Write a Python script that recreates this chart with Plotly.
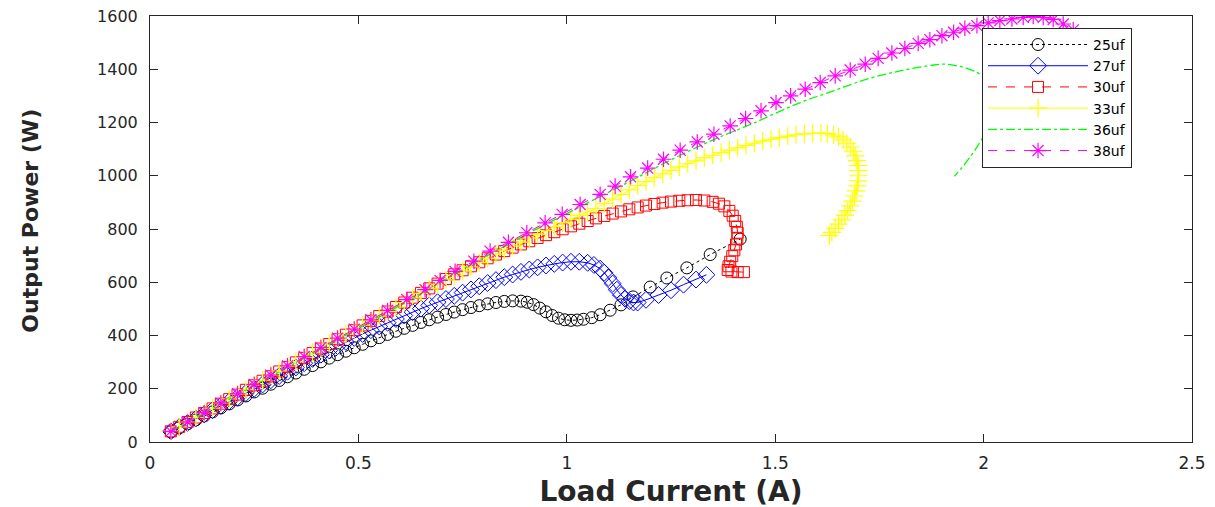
import plotly.graph_objects as go

# ---------------- data ----------------
i_25 = [0.05, 0.07, 0.09, 0.11, 0.13, 0.15, 0.17, 0.19, 0.21, 0.23, 0.25, 0.27, 0.29, 0.31, 0.33,
        0.35, 0.37, 0.39, 0.41, 0.43, 0.45, 0.47, 0.49, 0.51, 0.53, 0.55, 0.57, 0.59, 0.61, 0.63,
        0.65, 0.67, 0.69, 0.71, 0.73, 0.75, 0.77, 0.79, 0.81, 0.83, 0.85, 0.87, 0.89, 0.905, 0.92,
        0.935, 0.95, 0.965, 0.98, 0.995, 1.01, 1.025, 1.04, 1.06, 1.08, 1.104, 1.13, 1.159, 1.20,
        1.24, 1.288, 1.344, 1.416]
p_25 = [38, 53, 68, 83, 98, 113, 128, 143, 158, 173, 188, 202, 217, 231, 245,
        259, 273, 287, 301, 315, 328, 341, 354, 367, 380, 392, 404, 416, 427, 438,
        449, 459, 469, 479, 488, 497, 505, 512, 519, 524, 528, 530, 529, 525, 516,
        503, 489, 475, 465, 459, 457, 458, 461, 467, 478, 495, 515, 545, 582,
        616, 654, 704, 762]

i_27 = [0.05, 0.07, 0.09, 0.11, 0.13, 0.15, 0.17, 0.19, 0.21, 0.23, 0.25, 0.27, 0.29, 0.31, 0.33,
        0.35, 0.37, 0.39, 0.41, 0.43, 0.45, 0.47, 0.49, 0.51, 0.53, 0.55, 0.57, 0.59, 0.61, 0.63,
        0.65, 0.67, 0.69, 0.71, 0.73, 0.75, 0.77, 0.79, 0.81, 0.83, 0.85, 0.87, 0.89, 0.91, 0.93,
        0.95, 0.97, 0.99, 1.01, 1.03, 1.05, 1.065, 1.08, 1.09, 1.10, 1.11, 1.12, 1.13, 1.14, 1.15,
        1.16, 1.17, 1.19, 1.22, 1.25, 1.28, 1.31, 1.335]
p_27 = [40, 56, 72, 88, 104, 120, 136, 152, 168, 184, 200, 216, 232, 248, 264,
        280, 296, 312, 328, 344, 360, 376, 391, 406, 420, 434, 448, 462, 475, 488,
        501, 513, 525, 537, 549, 561, 573, 585, 597, 608, 619, 629, 639, 648, 656,
        663, 669, 674, 677, 677, 673, 665, 651, 636, 617, 595, 572, 552, 538, 529,
        524, 524, 534, 552, 570, 591, 610, 628]

i_30 = [0.05, 0.07, 0.09, 0.11, 0.13, 0.15, 0.17, 0.19, 0.21, 0.23, 0.25, 0.27, 0.29, 0.31, 0.33,
        0.35, 0.37, 0.39, 0.41, 0.43, 0.45, 0.47, 0.49, 0.51, 0.53, 0.55, 0.57, 0.59, 0.61, 0.63,
        0.65, 0.67, 0.69, 0.71, 0.73, 0.75, 0.77, 0.79, 0.81, 0.83, 0.85, 0.87, 0.89, 0.91, 0.93,
        0.95, 0.97, 0.99, 1.01, 1.03, 1.05, 1.07, 1.09, 1.11, 1.13, 1.15, 1.17, 1.19, 1.21, 1.23,
        1.25, 1.27, 1.29, 1.31, 1.33, 1.35, 1.365, 1.378, 1.39, 1.398, 1.404, 1.408, 1.41, 1.409,
        1.406, 1.402, 1.397, 1.392, 1.388, 1.386, 1.395, 1.41, 1.425]
p_30 = [40, 57, 75, 92, 109, 126, 144, 161, 178, 196, 213, 230, 247, 265, 282,
        299, 316, 334, 351, 368, 386, 403, 420, 438, 455, 473, 490, 507, 524, 542,
        560, 577, 595, 612, 630, 645, 660, 675, 690, 704, 717, 730, 742, 754, 766,
        777, 788, 799, 810, 820, 830, 840, 849, 858, 866, 874, 881, 888, 894, 899,
        903, 906, 908, 909, 907, 902, 895, 885, 868, 850, 830, 808, 786, 764,
        742, 720, 698, 677, 660, 646, 640, 638, 638]

i_33 = [0.05, 0.07, 0.09, 0.11, 0.13, 0.15, 0.17, 0.19, 0.21, 0.23, 0.25, 0.27, 0.29, 0.31, 0.33,
        0.35, 0.37, 0.39, 0.41, 0.43, 0.45, 0.47, 0.49, 0.51, 0.53, 0.55, 0.57, 0.59, 0.61, 0.63,
        0.65, 0.67, 0.69, 0.71, 0.73, 0.75, 0.77, 0.79, 0.81, 0.83, 0.85, 0.87, 0.89, 0.91, 0.93,
        0.95, 0.97, 0.99, 1.01, 1.03, 1.05, 1.07, 1.09, 1.11, 1.13, 1.15, 1.17, 1.19, 1.21, 1.23,
        1.25, 1.27, 1.29, 1.31, 1.33, 1.35, 1.37, 1.39, 1.41, 1.43, 1.45, 1.47, 1.49, 1.51, 1.53,
        1.55, 1.57, 1.59, 1.61, 1.625, 1.64, 1.652, 1.663, 1.672, 1.68, 1.687, 1.692, 1.696, 1.699,
        1.70, 1.70, 1.699, 1.697, 1.694, 1.69, 1.685, 1.68, 1.674, 1.667, 1.66, 1.652, 1.644,
        1.636, 1.63]
p_33 = [40, 57, 75, 92, 110, 127, 145, 162, 180, 197, 215, 232, 250, 267, 285,
        302, 319, 337, 354, 371, 388, 405, 422, 439, 456, 473, 490, 507, 524, 541,
        558, 575, 592, 609, 626, 642, 658, 674, 690, 706, 721, 736, 751, 766, 781,
        795, 809, 823, 837, 851, 864, 877, 895, 912, 930, 947, 963, 978, 993, 1007,
        1020, 1033, 1045, 1056, 1067, 1077, 1087, 1096, 1105, 1114, 1122, 1130, 1137, 1143, 1149,
        1154, 1157, 1159, 1160, 1158, 1153, 1146, 1135, 1122, 1108, 1092, 1075, 1057, 1038,
        1019, 1000, 981, 962, 943, 924, 905, 887, 869, 851, 834, 818, 802,
        787, 775]

i_36 = [0.05, 0.15, 0.25, 0.35, 0.45, 0.55, 0.65, 0.75, 0.85, 0.95, 1.05, 1.15, 1.25, 1.35,
        1.45, 1.56, 1.64, 1.72, 1.80, 1.88, 1.91, 1.936, 1.96, 1.984, 2.0, 2.012, 2.018, 2.018,
        2.012, 2.0, 1.985, 1.965, 1.948, 1.93]
p_36 = [40, 126, 212, 298, 384, 470, 556, 648, 735, 818, 898, 978, 1060, 1134,
        1199, 1275, 1319, 1363, 1394, 1416, 1419, 1413, 1403, 1388, 1370, 1340, 1300, 1250,
        1200, 1150, 1110, 1065, 1030, 998]

i_38 = [0.05, 0.09, 0.13, 0.17, 0.21, 0.25, 0.29, 0.33, 0.37, 0.41, 0.45, 0.49, 0.53, 0.57,
        0.616, 0.66, 0.696, 0.732, 0.777, 0.816, 0.86, 0.904, 0.948, 0.989, 1.032, 1.08, 1.116,
        1.153, 1.194, 1.232, 1.272, 1.313, 1.353, 1.392, 1.429, 1.466, 1.502, 1.537, 1.572, 1.608,
        1.644, 1.680, 1.716, 1.747, 1.780, 1.811, 1.843, 1.871, 1.900, 1.928, 1.955, 1.984, 2.011,
        2.039, 2.068, 2.095, 2.119, 2.143, 2.167, 2.191, 2.215, 2.235]
p_38 = [40, 75, 110, 146, 181, 216, 251, 286, 321, 355, 390, 424, 459, 494,
        535, 572, 607, 641, 679, 717, 750, 786, 823, 855, 892, 930, 961,
        996, 1029, 1062, 1096, 1127, 1156, 1187, 1215, 1244, 1275, 1300, 1325, 1350,
        1375, 1397, 1419, 1441, 1461, 1478, 1497, 1511, 1526, 1539, 1554, 1564, 1574,
        1583, 1589, 1595, 1598, 1595, 1587, 1570, 1548, 1520]

x_ticks = [0, 0.5, 1, 1.5, 2, 2.5]
x_tick_labels = ["0", "0.5", "1", "1.5", "2", "2.5"]
y_ticks = [0, 200, 400, 600, 800, 1000, 1200, 1400, 1600]
y_tick_labels = ["0", "200", "400", "600", "800", "1000", "1200", "1400", "1600"]

# ---------------- figure ----------------
AX = "#262626"
FONT = "DejaVu Sans, Arial, sans-serif"
fig = go.Figure()

fig.add_trace(go.Scatter(x=i_25, y=p_25, name="25uf", mode="lines+markers",
                         line=dict(color="black", width=1, dash="dot"),
                         marker=dict(symbol="circle-open", size=12, color="black",
                                     line=dict(width=1))))
fig.add_trace(go.Scatter(x=i_27, y=p_27, name="27uf", mode="lines+markers",
                         line=dict(color="#0000ff", width=1),
                         marker=dict(symbol="diamond-open", size=13, color="#0000ff",
                                     line=dict(width=1))))
fig.add_trace(go.Scatter(x=i_30, y=p_30, name="30uf", mode="lines+markers",
                         line=dict(color="#ff0000", width=1, dash="dash"),
                         marker=dict(symbol="square-open", size=11, color="#ff0000",
                                     line=dict(width=1))))
fig.add_trace(go.Scatter(x=i_33, y=p_33, name="33uf", mode="lines+markers",
                         line=dict(color="#ffff00", width=1),
                         marker=dict(symbol="cross-thin-open", size=13, color="#ffff00",
                                     line=dict(width=1.2, color="#ffff00"))))
fig.add_trace(go.Scatter(x=i_36, y=p_36, name="36uf", mode="lines",
                         line=dict(color="#00ff00", width=1.3, dash="dashdot", shape="spline")))
fig.add_trace(go.Scatter(x=i_38, y=p_38, name="38uf", mode="lines+markers",
                         line=dict(color="#ff00ff", width=1, dash="dash"),
                         marker=dict(symbol="asterisk-open", size=13, color="#ff00ff",
                                     line=dict(width=1.2, color="#ff00ff"))))

# the page body adds an 8 px offset; margins chosen so that the plot area
# lands at x 150..1192, y 16..442 in the window
fig.update_layout(
    width=1215, height=507, autosize=False,
    margin=dict(l=142, r=31, t=8, b=73),
    paper_bgcolor="white", plot_bgcolor="white",
    font=dict(family=FONT, color=AX),
    showlegend=True,
    legend=dict(x=0.7985, y=0.972, xanchor="left", yanchor="top",
                bgcolor="white", bordercolor=AX, borderwidth=1,
                font=dict(size=14, color="black", family=FONT), tracegroupgap=0,
                itemwidth=100),
    annotations=[dict(text="<b>Output Power (W)</b>", textangle=-90,
                      xref="paper", yref="paper", x=-0.115, y=0.52,
                      xanchor="center", yanchor="middle", showarrow=False,
                      font=dict(size=22, color=AX, family=FONT))],
)
fig.update_xaxes(range=[0, 2.5], tickvals=x_ticks, ticktext=x_tick_labels, automargin=False,
                 showgrid=False, zeroline=False, showline=True, linecolor=AX, linewidth=1,
                 mirror="ticks", ticks="inside", ticklen=8, tickcolor=AX,
                 tickfont=dict(size=17, color=AX), ticklabelstandoff=6,
                 ticklabeloverflow="allow",
                 title=dict(text="<b>Load Current (A)</b>",
                            font=dict(size=28, color=AX, family=FONT), standoff=8))
fig.update_yaxes(range=[0, 1600], tickvals=y_ticks, ticktext=y_tick_labels, automargin=False,
                 showgrid=False, zeroline=False, showline=True, linecolor=AX, linewidth=1,
                 mirror="ticks", ticks="inside", ticklen=8, tickcolor=AX,
                 tickfont=dict(size=16, color=AX), ticklabelstandoff=8,
                 ticklabeloverflow="allow")

fig.write_html("out.html")
